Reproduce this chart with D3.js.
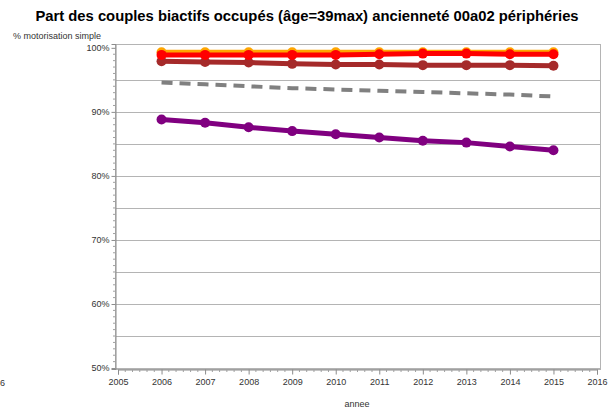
<!DOCTYPE html>
<html><head><meta charset="utf-8">
<script src="https://cdn.jsdelivr.net/npm/d3@7"></script>
<style>body{margin:0;background:#fff;font-family:"Liberation Sans",Arial,sans-serif}</style>
</head><body>
<svg id="chart" width="614" height="412"></svg>
<script>
const years = [2006,2007,2008,2009,2010,2011,2012,2013,2014,2015];
const serieJaune = [99.3,99.3,99.3,99.3,99.3,99.3,99.3,99.3,99.3,99.3];
const serieRouge = [98.9,98.9,98.9,98.9,98.9,99.0,99.1,99.1,99.0,99.0];
const serieBrune = [97.9,97.8,97.7,97.5,97.4,97.4,97.3,97.3,97.3,97.2];
const serieGrise = [94.6,94.3,94.0,93.7,93.5,93.3,93.1,92.9,92.7,92.4];
const serieViolette = [88.8,88.3,87.6,87.0,86.5,86.0,85.5,85.2,84.6,84.0];
const yTicks = [50,60,70,80,90,100];
const xTicks = [2005,2006,2007,2008,2009,2010,2011,2012,2013,2014,2015,2016];

const svg = d3.select("#chart");
const L = 115, R = 600, T = 44, B = 369;
const x = d3.scaleLinear().domain([2005,2016]).range([118,597]);
const y = d3.scaleLinear().domain([49.85,100.6]).range([B,T]);

svg.append("text").attr("x",307).attr("y",21).attr("text-anchor","middle")
  .attr("font-size",14.8).attr("font-weight","bold").attr("fill","#000")
  .text("Part des couples biactifs occupés (âge=39max) ancienneté 00a02 périphéries");

// gridlines every 5%
const grid = d3.range(50,100,5);
svg.append("g").selectAll("line").data(grid).join("line")
  .attr("x1",L).attr("x2",R).attr("y1",d=>Math.round(y(d))+0.5).attr("y2",d=>Math.round(y(d))+0.5)
  .attr("stroke","#b4b4b4").attr("stroke-width",1);

// frame
svg.append("rect").attr("x",L+0.5).attr("y",T+0.5).attr("width",R-L).attr("height",B-T)
  .attr("fill","none").attr("stroke","#b4b4b4");

// y axis
const yAxis = d3.axisLeft(y).tickValues(yTicks).tickFormat(d=>d+"%").tickSize(4).tickPadding(2);
const gy = svg.append("g").attr("transform",`translate(${L+0.5},0)`).call(yAxis);
gy.select(".domain").attr("stroke","#8c8c8c");
gy.selectAll(".tick line").attr("stroke","#8c8c8c");
gy.selectAll("text").attr("font-size",9).attr("fill","#333").attr("font-family","Liberation Sans, Arial, sans-serif");
svg.append("g").selectAll("line").data(d3.range(50,101,1).filter(v=>v%10!==0)).join("line")
  .attr("x1",L-2).attr("x2",L).attr("y1",d=>y(d)).attr("y2",d=>y(d)).attr("stroke","#a0a0a0");

// x axis
const xAxis = d3.axisBottom(x).tickValues(xTicks).tickFormat(d3.format("d")).tickSize(5).tickPadding(4);
const gx = svg.append("g").attr("transform",`translate(0,${B+0.5})`).call(xAxis);
gx.select(".domain").attr("stroke","#8c8c8c");
gx.selectAll(".tick line").attr("stroke","#8c8c8c");
gx.selectAll("text").attr("font-size",9).attr("fill","#333").attr("font-family","Liberation Sans, Arial, sans-serif");
const minorX = [];
for (let yr=2005; yr<2016; yr++) for (let k=1;k<6;k++) minorX.push(yr+k/6);
svg.append("g").selectAll("line").data(minorX).join("line")
  .attr("x1",d=>x(d)).attr("x2",d=>x(d)).attr("y1",B+1).attr("y2",B+3).attr("stroke","#a0a0a0");

svg.append("text").attr("x",13).attr("y",39).attr("font-size",9).attr("fill","#333").text("% motorisation simple");
svg.append("text").attr("x",357).attr("y",407).attr("text-anchor","middle").attr("font-size",9).attr("fill","#333").text("annee");
svg.append("text").attr("x",0).attr("y",386).attr("font-size",9).attr("fill","#333").text("6");

const line = d3.line().x((d,i)=>x(years[i])).y(d=>y(d));
function draw(vals, color, width, dash, markers){
  svg.append("path").datum(vals).attr("d",line).attr("fill","none")
    .attr("stroke",color).attr("stroke-width",width).attr("stroke-dasharray",dash||null);
  if (markers) svg.append("g").selectAll("circle").data(vals).join("circle")
    .attr("cx",(d,i)=>x(years[i])).attr("cy",d=>y(d)).attr("r",5).attr("fill",color);
}
draw(serieGrise,"#808080",4,"11,7",false);
draw(serieViolette,"#800080",5,null,true);
draw(serieBrune,"#a52a2a",5,null,true);
draw(serieJaune,"#ffa500",5,null,true);
draw(serieRouge,"#ff0000",5,null,true);
</script>
</body></html>
